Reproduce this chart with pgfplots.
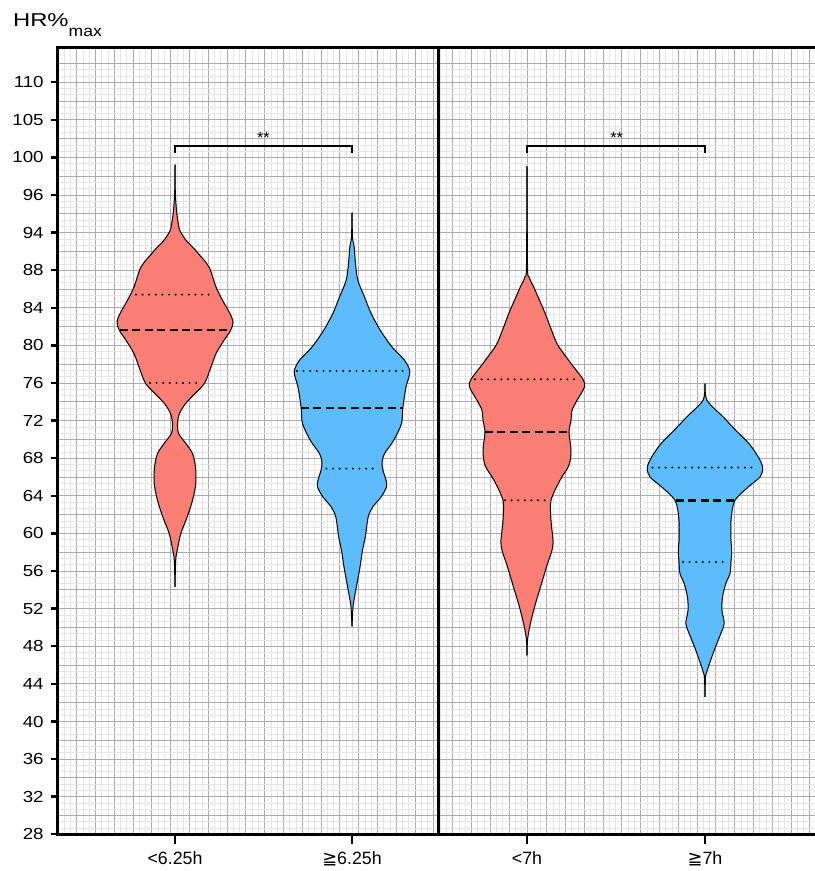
\documentclass[border=0pt]{standalone}
\usepackage{graphicx}
\usepackage{pgfplots}
\pgfplotsset{compat=1.18}
\usepackage{pgfplotstable}
\usepgfplotslibrary{fillbetween}
\usepackage{fontspec}
\setmainfont{Liberation Sans}
\newfontfamily\dejavu{DejaVu Sans}
\newcommand\gq{{\dejavu ≧}}
\newcommand\sy[1]{\scalebox{1.17}[1]{#1}}
\definecolor{vred}{HTML}{FB7F74}
\definecolor{vblue}{HTML}{5DBCFB}

% violin profiles: y (axis position), w (half width)
\pgfplotstableread{
y w
99.25 0
96.30 0.016
94.38 0.080
93.32 0.149
92.26 0.255
91.19 0.585
90.48 0.931
89.78 1.239
88.35 1.809
86.22 2.181
84.81 2.527
83.39 2.926
82.50 3.085
81.62 2.963
80.55 2.606
79.14 2.181
77.71 1.915
76.01 1.580
74.88 1.064
73.82 0.559
72.76 0.239
71.69 0.133
70.63 0.197
69.56 0.585
68.50 0.931
67.07 1.090
65.31 1.106
63.53 0.931
61.76 0.649
59.99 0.309
58.21 0.117
57.15 0.037
54.31 0
}\vA
\pgfplotstableread{
y w
94.14 0
91.54 0.027
90.48 0.117
88.71 0.186
86.94 0.309
85.16 0.665
83.39 1.021
81.62 1.505
79.84 2.128
78.43 2.793
77.18 3.074
75.59 2.872
73.32 2.702
71.69 2.633
69.91 2.218
68.50 1.729
67.57 1.596
66.72 1.649
65.66 1.809
64.95 1.835
63.88 1.543
62.82 1.106
61.76 0.862
59.63 0.707
58.21 0.559
56.44 0.426
54.67 0.266
53.24 0.133
52.18 0.053
50.13 0
}\vB
\pgfplotstableread{
y w
99.06 0
88.53 0.027
87.29 0.106
86.22 0.356
84.81 0.665
83.39 0.973
81.97 1.239
80.20 1.596
79.14 1.952
77.71 2.484
76.40 2.979
75.59 3.059
74.17 2.660
73.11 2.394
72.04 2.340
70.77 2.234
68.85 2.340
67.26 2.234
65.66 1.755
63.53 1.277
61.40 1.277
59.28 1.383
58.21 1.330
56.62 1.064
54.49 0.745
52.36 0.426
50.23 0.160
48.64 0.027
47.04 0
}\vC
\pgfplotstableread{
y w
75.95 0
74.17 0.106
72.39 0.973
70.98 1.638
69.56 2.340
68.14 2.835
67.01 3.069
66.01 2.926
64.95 2.303
63.53 1.596
61.76 1.399
59.63 1.372
58.21 1.420
56.97 1.383
55.73 1.330
54.67 1.106
53.24 0.931
51.83 0.904
50.41 1.021
49.35 0.840
47.57 0.489
45.80 0.176
44.91 0.037
42.61 0
}\vD

\begin{document}
\begin{tikzpicture}
\begin{axis}[
  name=ax, set layers, scale only axis,
  width=381.05pt, height=393.4pt,
  xmin=0, xmax=40.537, ymin=28, ymax=111.7,
  axis line style={line width=1.4pt, black},
  no markers,
  xtick={0,1,...,40}, minor x tick num=2,
  ytick={28,30,...,110}, minor y tick num=2,
  xticklabels={}, yticklabels={},
  major tick length=0pt, minor tick length=0pt,
  grid=both,
  major grid style={black!33, line width=0.45pt},
  minor grid style={black!10, line width=0.35pt},
  tick align=outside, xtick pos=left, ytick pos=left,
  extra x ticks={6.229,15.644,24.952,34.420},
  extra x tick labels={<6.25h,\gq6.25h,<7h,\gq7h},
  extra x tick style={grid=none, major tick length=5pt,
     tick style={line width=1.2pt, black},
     tick label style={font=\fontsize{8.9}{10}\selectfont}},
  extra y ticks={28,32,...,108},
  extra y tick labels={\sy{28},\sy{32},\sy{36},\sy{40},\sy{44},\sy{48},\sy{52},\sy{56},\sy{60},\sy{64},\sy{68},\sy{72},\sy{76},\sy{80},\sy{84},\sy{88},\sy{94},\sy{96},\sy{100},\sy{105},\sy{110}},
  extra y tick style={grid=none, major tick length=3.6pt,
     tick style={line width=1.2pt, black},
     tick label style={font=\fontsize{8}{9.5}\selectfont}},
]
% divider
\addplot[black, line width=1.4pt] coordinates {(20.25,26) (20.25,114)};

% violin 1
\addplot[name path=R1, draw=black, line width=0.5pt, smooth, tension=0.5] table[x expr={6.229+\thisrow{w}}, y=y] {\vA};
\addplot[name path=L1, draw=black, line width=0.5pt, smooth, tension=0.5] table[x expr={6.229-\thisrow{w}}, y=y] {\vA};
\addplot[fill=vred, draw=none] fill between[of=R1 and L1];
% violin 2
\addplot[name path=R2, draw=black, line width=0.5pt, smooth, tension=0.5] table[x expr={15.644+\thisrow{w}}, y=y] {\vB};
\addplot[name path=L2, draw=black, line width=0.5pt, smooth, tension=0.5] table[x expr={15.644-\thisrow{w}}, y=y] {\vB};
\addplot[fill=vblue, draw=none] fill between[of=R2 and L2];
% violin 3
\addplot[name path=R3, draw=black, line width=0.5pt, smooth, tension=0.5] table[x expr={24.952+\thisrow{w}}, y=y] {\vC};
\addplot[name path=L3, draw=black, line width=0.5pt, smooth, tension=0.5] table[x expr={24.952-\thisrow{w}}, y=y] {\vC};
\addplot[fill=vred, draw=none] fill between[of=R3 and L3];
% violin 4
\addplot[name path=R4, draw=black, line width=0.5pt, smooth, tension=0.5] table[x expr={34.420+\thisrow{w}}, y=y] {\vD};
\addplot[name path=L4, draw=black, line width=0.5pt, smooth, tension=0.5] table[x expr={34.420-\thisrow{w}}, y=y] {\vD};
\addplot[fill=vblue, draw=none] fill between[of=R4 and L4];

% quartiles (dotted) and medians (dashed)
\pgfplotsset{qline/.style={black, line width=1.1pt, line cap=round, dash pattern=on 0pt off 3.3pt},
             mline/.style={black, line width=1.2pt, dash pattern=on 4pt off 2.2pt}}
\addplot[qline] coordinates {(4.155,85.41) (8.303,85.41)};
\addplot[mline] coordinates {(3.303,81.62) (9.155,81.62)};
\addplot[qline] coordinates {(4.899,76.01) (7.559,76.01)};
\addplot[qline] coordinates {(12.718,77.29) (18.570,77.29)};
\addplot[mline] coordinates {(12.931,73.32) (18.357,73.32)};
\addplot[qline] coordinates {(14.288,66.90) (17.000,66.90)};
\addplot[qline] coordinates {(22.186,76.40) (27.718,76.40)};
\addplot[mline] coordinates {(22.718,70.77) (27.186,70.77)};
\addplot[qline] coordinates {(23.782,63.53) (26.122,63.53)};
\addplot[qline] coordinates {(31.627,67.01) (37.213,67.01)};
\addplot[mline] coordinates {(32.877,63.53) (35.963,63.53)};
\addplot[qline] coordinates {(33.250,56.97) (35.590,56.97)};

% significance brackets
\addplot[black, line width=1pt] coordinates {(6.229,100.52) (6.229,101.22) (15.644,101.22) (15.644,100.52)};
\addplot[black, line width=1pt] coordinates {(24.952,100.52) (24.952,101.22) (34.420,101.22) (34.420,100.52)};
\node[anchor=base, font=\fontsize{8.2}{9}\selectfont, inner sep=0pt] at (axis cs:10.93,101.46) {**};
\node[anchor=base, font=\fontsize{8.2}{9}\selectfont, inner sep=0pt] at (axis cs:29.72,101.46) {**};
\end{axis}
\node[anchor=base west, inner sep=0pt, font=\fontsize{9.3}{11}\selectfont]
  at ([xshift=-22.6pt, yshift=10.4pt]ax.north west) {\scalebox{1.28}[1]{HR\%}\raisebox{-5pt}{\fontsize{7.7}{9}\selectfont\scalebox{1.14}[1]{max}}};
\pgfresetboundingbox
\path[use as bounding box] ([xshift=-28.95pt, yshift=-18.35pt]ax.south west) rectangle ([xshift=378.55pt, yshift=23.75pt]ax.north west);
\end{tikzpicture}
\end{document}
